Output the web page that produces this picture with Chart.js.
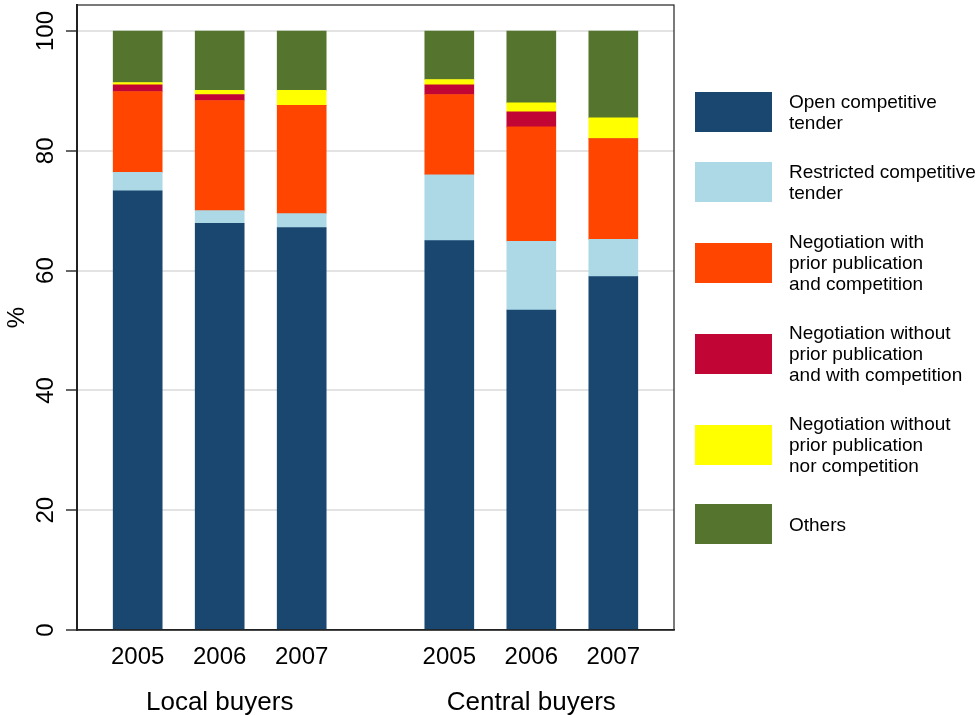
<!DOCTYPE html>
<html>
<head>
<meta charset="utf-8">
<script src="https://cdn.jsdelivr.net/npm/chart.js@4/dist/chart.umd.min.js"></script>
<style>
  body { margin: 0; background: #fff; }
  #wrap { position: relative; width: 976px; height: 715px; }
  #legend {
    position: absolute; left: 695px; top: 91px;
    display: flex; flex-direction: column; gap: 28px;
    font-family: "Liberation Sans", Arial, sans-serif; font-size: 19px; line-height: 21px; color: #000;
  }
  .item { display: flex; align-items: center; }
  .box { width: 77px; height: 40px; margin-right: 17px; flex: none; }
</style>
</head>
<body>
<div id="wrap">
  <canvas id="chart" width="976" height="715"></canvas>
  <div id="legend"></div>
</div>
<script>
const years = ["2005", "2006", "2007"];
const groups = ["Local buyers", "Central buyers"];
const yTicks = [0, 20, 40, 60, 80, 100];

// per bar: Local 2005, 2006, 2007, Central 2005, 2006, 2007
const openTender = [73.3, 67.9, 67.2, 65.0, 53.4, 59.0];
const restrictedTender = [3.1, 2.1, 2.3, 11.0, 11.5, 6.2];
const negPriorComp = [13.5, 18.4, 18.1, 13.4, 19.1, 16.8];
const negNoPriorComp = [1.1, 1.0, 0, 1.6, 2.5, 0];
const negNoPriorNoComp = [0.4, 0.7, 2.5, 0.9, 1.5, 3.5];
const others = [8.6, 9.9, 9.9, 8.1, 12.0, 14.5];

const seriesNames = [
  ["Open competitive", "tender"],
  ["Restricted competitive", "tender"],
  ["Negotiation with", "prior publication", "and competition"],
  ["Negotiation without", "prior publication", "and with competition"],
  ["Negotiation without", "prior publication", "nor competition"],
  ["Others"]
];
const seriesValues = [openTender, restrictedTender, negPriorComp, negNoPriorComp, negNoPriorNoComp, others];
const colors = ["#1a476f", "#add8e6", "#ff4500", "#c10534", "#ffff00", "#55752f"];

// x position of each bar: year index inside its group, groups set apart
const groupStep = 3.8;
const xPos = [];
groups.forEach((g, gi) => years.forEach((y, yi) => xPos.push(gi * groupStep + yi + 1)));

const datasets = seriesValues.map((vals, i) => ({
  label: seriesNames[i].join(" "),
  data: vals.map((v, j) => ({ x: xPos[j], y: v })),
  backgroundColor: colors[i],
  borderWidth: 0,
  barThickness: 49,
  xAxisID: "x"
}));

// legend
const legend = document.getElementById("legend");
seriesNames.forEach((name, i) => {
  const item = document.createElement("div");
  item.className = "item";
  item.innerHTML = '<div class="box" style="background:' + colors[i] + '"></div><div>' + name.join("<br>") + "</div>";
  legend.appendChild(item);
});

const frame = {
  id: "frame",
  afterDraw(chart) {
    const a = chart.chartArea, c = chart.ctx;
    c.save();
    c.strokeStyle = "#222";
    c.lineWidth = 1.2;
    c.strokeRect(a.left, a.top, a.right - a.left, a.bottom - a.top);
    c.restore();
  }
};

const font = "'Liberation Sans', Arial, sans-serif";
const xMin = 0.26, xMax = 7.54;

new Chart(document.getElementById("chart"), {
  type: "bar",
  data: { datasets },
  plugins: [frame],
  options: {
    responsive: false,
    animation: false,
    layout: { padding: { top: 5, right: 302, left: 0, bottom: 0 } },
    plugins: { legend: { display: false }, tooltip: { enabled: false } },
    scales: {
      x: {
        type: "linear", stacked: true, min: xMin, max: xMax, weight: 0, offset: false,
        grid: { display: false, drawTicks: false },
        border: { color: "#222", width: 1.5 },
        afterBuildTicks: s => { s.ticks = xPos.map(v => ({ value: v })); },
        afterFit: s => { s.height = 50; s.paddingLeft = 0; s.paddingRight = 0; },
        ticks: {
          padding: 13, color: "#000", maxRotation: 0,
          font: { family: font, size: 24 },
          callback: (v, i) => years[i % years.length]
        }
      },
      x2: {
        type: "linear", position: "bottom", min: xMin, max: xMax, weight: 1, offset: false,
        grid: { display: false, drawTicks: false },
        border: { display: false },
        afterBuildTicks: s => { s.ticks = groups.map((g, gi) => ({ value: gi * groupStep + 2 })); },
        afterFit: s => { s.height = 35; s.paddingLeft = 0; s.paddingRight = 0; },
        ticks: {
          padding: 7, color: "#000", maxRotation: 0,
          font: { family: font, size: 26 },
          callback: (v, i) => groups[i]
        }
      },
      y: {
        stacked: true, min: 0, max: 104.34,
        afterBuildTicks: s => { s.ticks = yTicks.map(v => ({ value: v })); },
        afterFit: s => { s.width = 77; s.paddingTop = 0; s.paddingBottom = 0; },
        grid: { color: "#e3e3e3", lineWidth: 2, tickColor: "#333", tickWidth: 1.5, tickLength: 11 },
        border: { color: "#222", width: 2 },
        ticks: {
          color: "#000", padding: 0, minRotation: 90, maxRotation: 90, crossAlign: "center",
          font: { family: font, size: 24 }
        },
        title: {
          display: true, text: "%", color: "#000", padding: { top: 3 },
          font: { family: font, size: 24 }
        }
      }
    }
  }
});
</script>
</body>
</html>
